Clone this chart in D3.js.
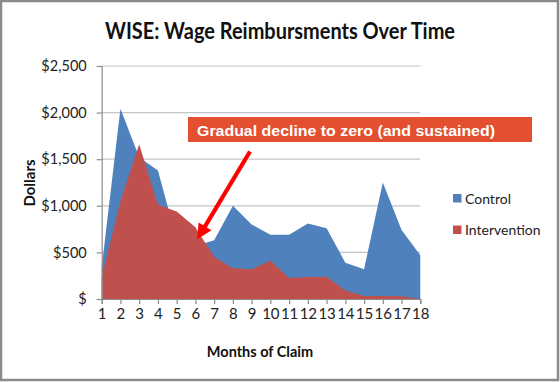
<!DOCTYPE html>
<html>
<head>
<meta charset="utf-8">
<script src="https://cdn.jsdelivr.net/npm/d3@7"></script>
<style>
  html, body { margin: 0; padding: 0; background: #fff; }
  svg { display: block; }
</style>
</head>
<body>
<svg id="chart" width="560" height="382"></svg>
<script>
// ---- data ----
const months = [1,2,3,4,5,6,7,8,9,10,11,12,13,14,15,16,17,18];
const control = [340,2040,1520,1380,640,570,630,1000,800,690,690,810,760,390,320,1250,740,470];
const intervention = [230,1050,1660,1010,940,770,450,330,320,410,225,235,240,90,32,32,30,0];
const seriesNames = ["Control", "Intervention"];
const yTicks = [0,500,1000,1500,2000,2500];
const yTickLabels = ["$","$500","$1,000","$1,500","$2,000","$2,500"];
const titleText = "WISE: Wage Reimbursments Over Time";
const xTitle = "Months of Claim";
const yTitle = "Dollars";
const noteText = "Gradual decline to zero (and sustained)";

// ---- layout ----
const svg = d3.select("#chart");
const colors = {Control: "#4F81BD", Intervention: "#C0504D"};
const plot = {left: 101.7, right: 420.3, top: 66, bottom: 299};
const font = "Lato, 'Open Sans', sans-serif";

svg.append("rect").attr("x", 0).attr("y", 0).attr("width", 560).attr("height", 382).attr("fill", "#fff");

const x = d3.scalePoint().domain(months).range([plot.left, plot.right]);
const y = d3.scaleLinear().domain([0, 2500]).range([plot.bottom, plot.top]);

// gridlines
svg.append("g").selectAll("line").data(yTicks.filter(d => d > 0)).join("line")
  .attr("x1", plot.left).attr("x2", plot.right)
  .attr("y1", d => y(d)).attr("y2", d => y(d))
  .attr("stroke", "#c4c4c4").attr("stroke-width", 1.2);

// areas
const area = d3.area().x((d, i) => x(months[i])).y0(y(0)).y1(d => y(d)).curve(d3.curveLinear);
svg.append("path").datum(control).attr("d", area).attr("fill", colors.Control);
svg.append("path").datum(intervention).attr("d", area).attr("fill", colors.Intervention);

// y axis
const yAxis = d3.axisLeft(y).tickValues(yTicks).tickFormat((d, i) => yTickLabels[i]).tickSize(5).tickPadding(10);
const gy = svg.append("g").attr("transform", `translate(${plot.left},0)`).call(yAxis);
gy.select(".domain").attr("stroke", "#8c8c8c").attr("stroke-width", 1.2);
gy.selectAll(".tick line").attr("stroke", "#8c8c8c").attr("stroke-width", 1.2);
gy.selectAll("text").attr("font-family", font).attr("font-size", 14.5).attr("fill", "#222");

// x axis
const xAxis = d3.axisBottom(x).tickSize(5).tickPadding(4);
const gx = svg.append("g").attr("transform", `translate(0,${plot.bottom})`).call(xAxis);
gx.select(".domain").attr("stroke", "#8c8c8c").attr("stroke-width", 1.2);
gx.selectAll(".tick line").attr("stroke", "#8c8c8c").attr("stroke-width", 1.2);
gx.selectAll("text").attr("font-family", font).attr("font-size", 15).attr("fill", "#222");

// title
svg.append("text").attr("x", 280).attr("y", 38.5).attr("text-anchor", "middle")
  .attr("font-family", font).attr("font-weight", "bold").attr("font-size", 23)
  .attr("textLength", 350).attr("lengthAdjust", "spacingAndGlyphs")
  .attr("fill", "#111").text(titleText);

// axis titles
svg.append("text").attr("x", 260).attr("y", 357).attr("text-anchor", "middle")
  .attr("font-family", font).attr("font-weight", "bold").attr("font-size", 14.5)
  .attr("fill", "#111").text(xTitle);
svg.append("text").attr("transform", "translate(35,183) rotate(-90)").attr("text-anchor", "middle")
  .attr("font-family", font).attr("font-weight", "bold").attr("font-size", 15)
  .attr("fill", "#111").text(yTitle);

// legend
const leg = svg.append("g");
seriesNames.forEach((name, i) => {
  const ly = 194 + i * 31.5;
  leg.append("rect").attr("x", 453).attr("y", ly).attr("width", 8.5).attr("height", 8.5).attr("fill", colors[name]);
  leg.append("text").attr("x", 465).attr("y", ly + 9.5)
    .attr("font-family", font).attr("font-size", 14).attr("fill", "#222").text(name);
});

// annotation box
svg.append("rect").attr("x", 188).attr("y", 117).attr("width", 344).attr("height", 25).attr("fill", "#E4502F");
svg.append("text").attr("x", 197).attr("y", 135.5)
  .attr("font-family", "'Liberation Sans', Arial, sans-serif").attr("font-weight", "bold").attr("font-size", 15)
  .attr("textLength", 298).attr("lengthAdjust", "spacingAndGlyphs")
  .attr("fill", "#fff").text(noteText);

// arrow
const ax0 = 250, ay0 = 151.5, ax1 = 197.3, ay1 = 239.3;
const ang = Math.atan2(ay1 - ay0, ax1 - ax0);
const headLen = 15, headHalf = 7.5;
const bx = ax1 - headLen * Math.cos(ang), by = ay1 - headLen * Math.sin(ang);
svg.append("line").attr("x1", ax0).attr("y1", ay0).attr("x2", bx + 2 * Math.cos(ang)).attr("y2", by + 2 * Math.sin(ang))
  .attr("stroke", "#FF0000").attr("stroke-width", 4.2);
const px = -Math.sin(ang), py = Math.cos(ang);
svg.append("path")
  .attr("d", `M${ax1},${ay1}L${bx + headHalf * px},${by + headHalf * py}L${bx - headHalf * px},${by - headHalf * py}Z`)
  .attr("fill", "#FF0000");

// frame
svg.append("rect").attr("x", 1).attr("y", 1).attr("width", 557).attr("height", 379)
  .attr("fill", "none").attr("stroke", "#8a8a8a").attr("stroke-width", 2.5);
</script>
</body>
</html>
